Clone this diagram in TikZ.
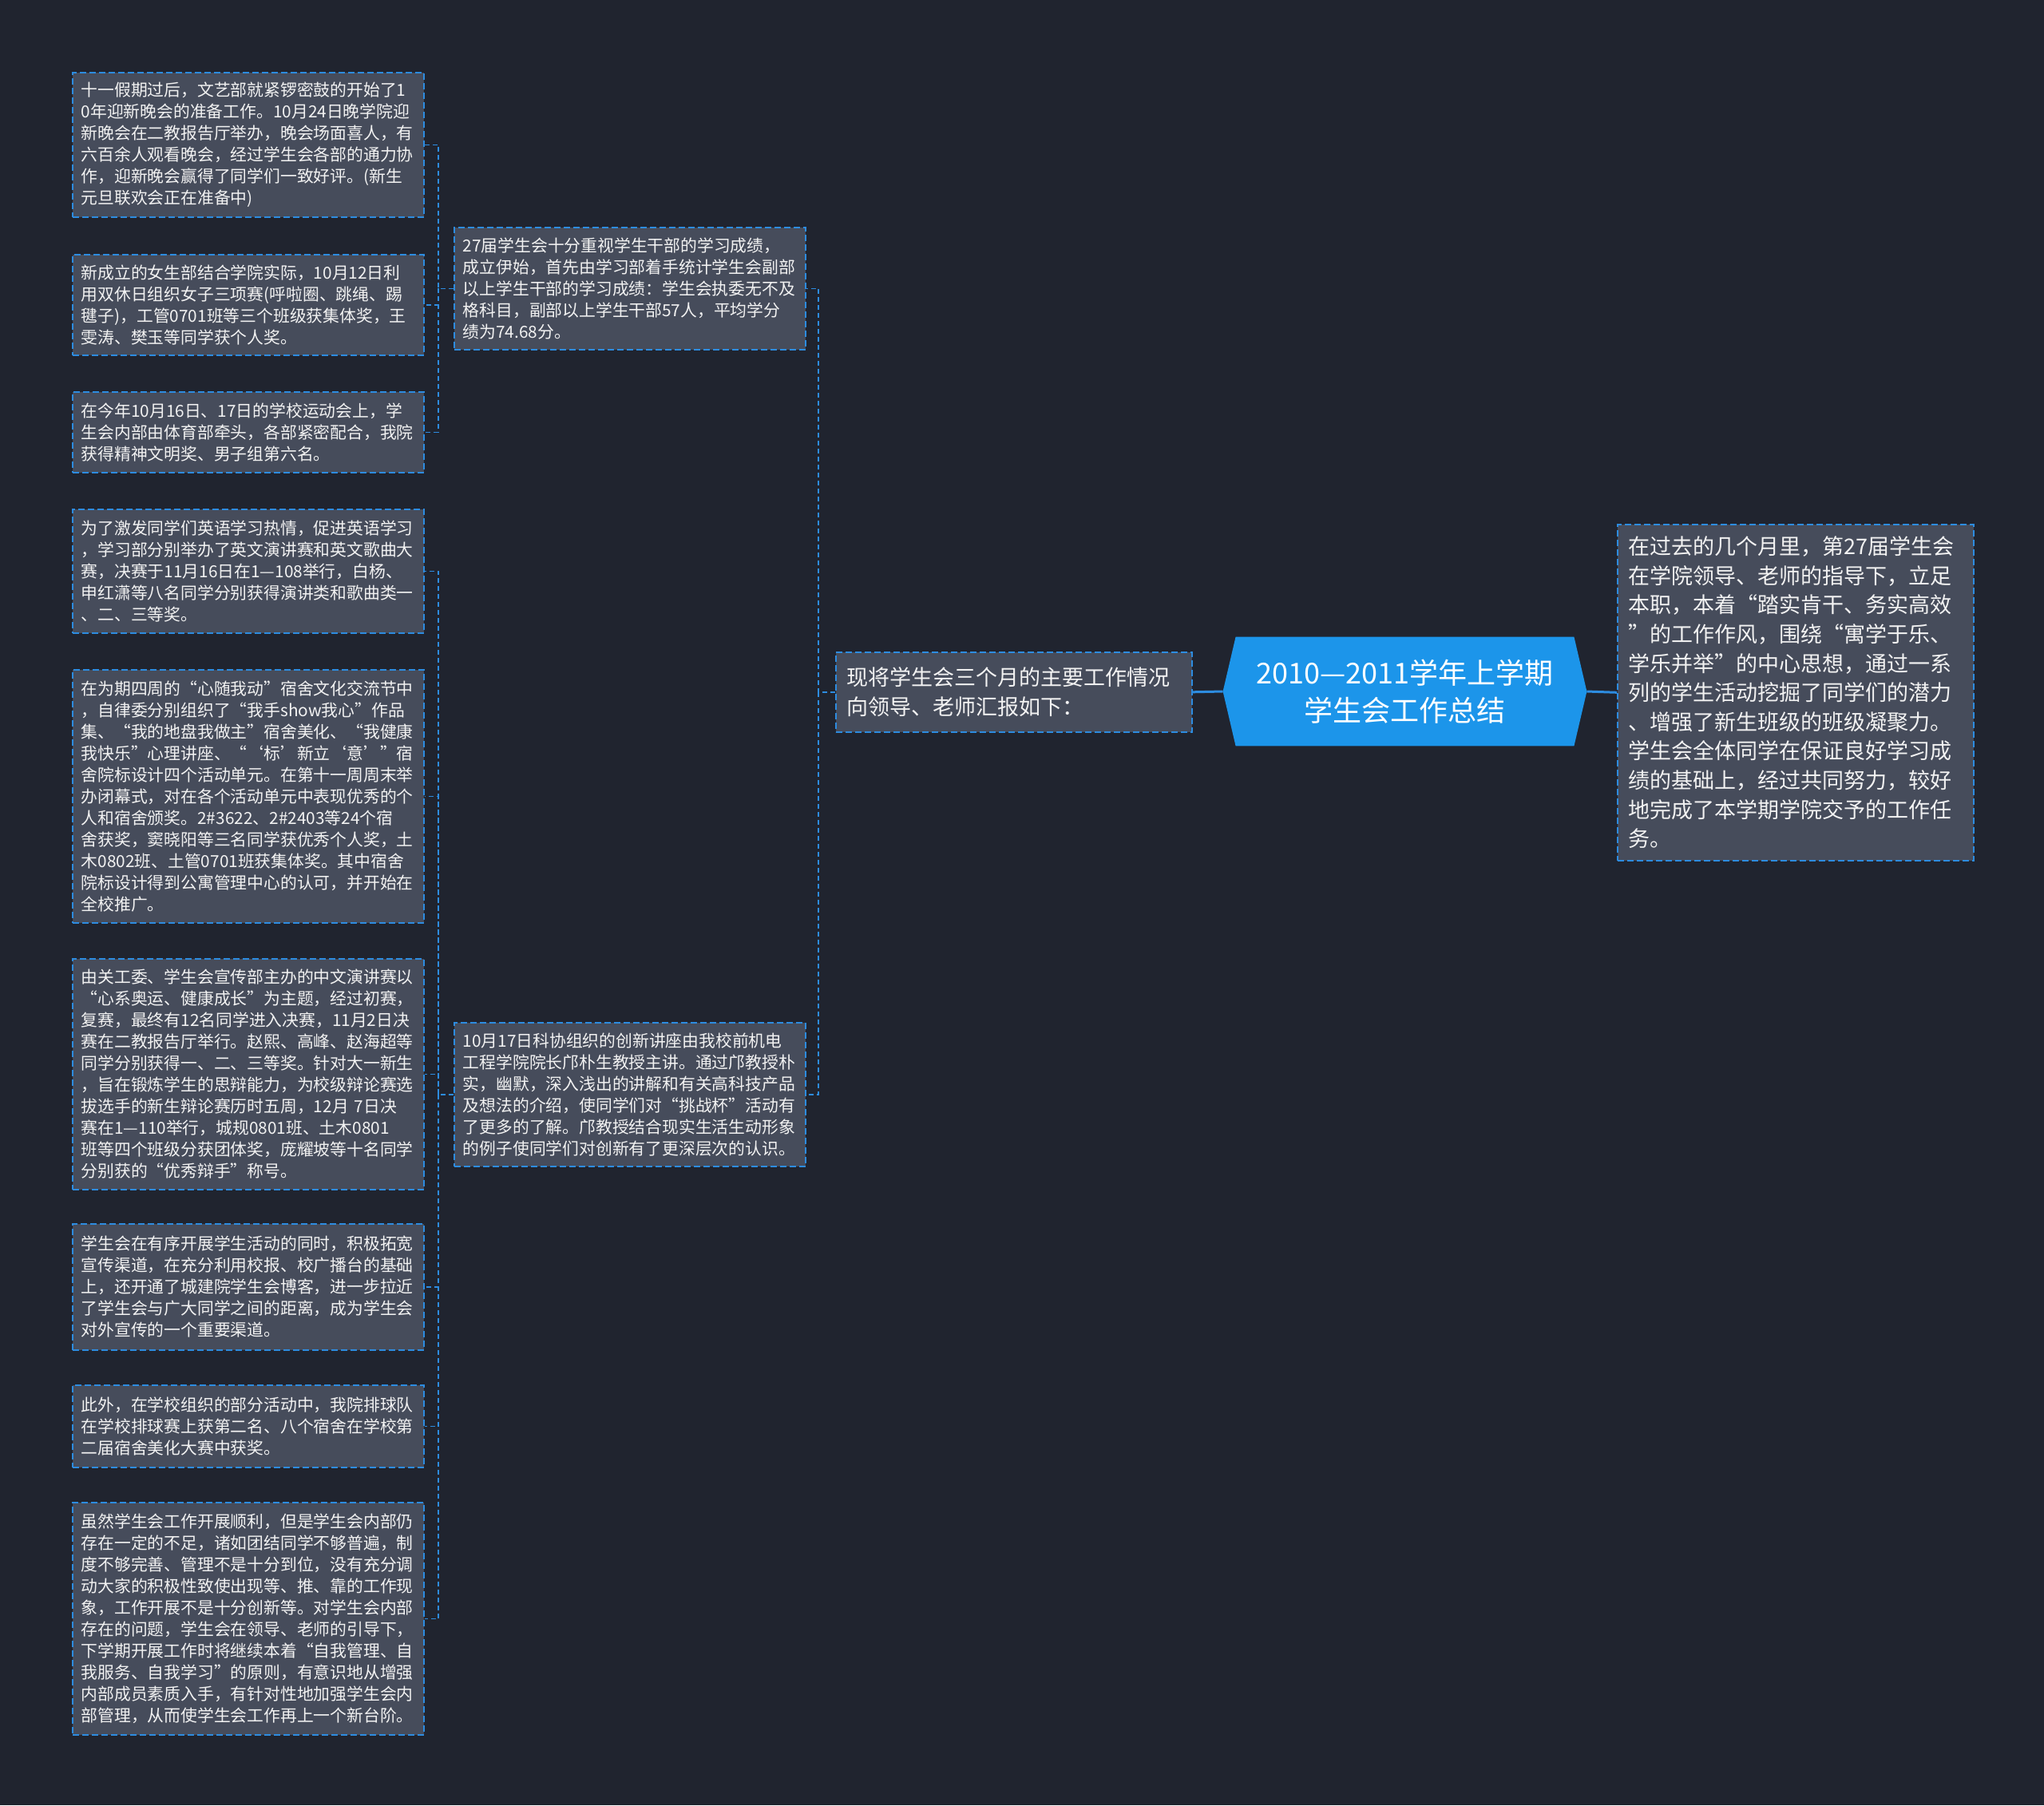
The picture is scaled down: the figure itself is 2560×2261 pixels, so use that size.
\documentclass[tikz,border=0pt]{standalone}
\usepackage{fontspec}
\newfontfamily\cjk{Noto Sans CJK SC}
\usetikzlibrary{calc}
\definecolor{bgc}{HTML}{20242F}
\definecolor{boxfill}{HTML}{464C5B}
\definecolor{lineblue}{HTML}{2D8CE0}
\definecolor{hexblue}{HTML}{1C95EA}
\definecolor{txt}{HTML}{F2F2F2}
\pgfdeclarelayer{back}
\pgfdeclarelayer{bg}
\pgfsetlayers{back,bg,main}
\begin{document}
\begin{tikzpicture}[x=0.5pt,y=-0.5pt,
  leaf/.style={draw=lineblue, dash pattern=on 4pt off 2pt, line width=0.8pt,
    fill=boxfill, text=txt, font={\cjk\fontsize{10.4pt}{13.5pt}\selectfont},
    text width=209pt, inner xsep=5.5pt, inner ysep=0pt, align=left,
    anchor=north west, minimum width=220pt},
  bigbox/.style={draw=lineblue, dash pattern=on 4pt off 2pt, line width=0.8pt,
    fill=boxfill, text=txt, font={\cjk\fontsize{13.5pt}{18.3pt}\selectfont},
    text width=209pt, inner xsep=7pt, inner ysep=0pt, align=left,
    anchor=north west, minimum width=223pt},
  conn/.style={draw=lineblue, line width=1.5pt},
  dconn/.style={draw=lineblue, line width=0.75pt, dash pattern=on 3pt off 2pt}
]
\begin{pgfonlayer}{back}
\fill[bgc] (0,0) rectangle (2560,2261);
\end{pgfonlayer}

% left column
\node[leaf, minimum height=90.5pt] (b1) at (90,90) {十一假期过后，文艺部就紧锣密鼓的开始了1\\0年迎新晚会的准备工作。10月24日晚学院迎\\新晚会在二教报告厅举办，晚会场面喜人，有\\六百余人观看晚会，经过学生会各部的通力协\\作，迎新晚会赢得了同学们一致好评。(新生\\元旦联欢会正在准备中)};
\node[leaf, minimum height=63pt] (b2) at (90,318) {新成立的女生部结合学院实际，10月12日利\\用双休日组织女子三项赛(呼啦圈、跳绳、踢\\毽子)，工管0701班等三个班级获集体奖，王\\雯涛、樊玉等同学获个人奖。};
\node[leaf, minimum height=50.5pt] (b3) at (90,490) {在今年10月16日、17日的学校运动会上，学\\生会内部由体育部牵头，各部紧密配合，我院\\获得精神文明奖、男子组第六名。};
\node[leaf, minimum height=77.5pt] (b4) at (90,637) {为了激发同学们英语学习热情，促进英语学习\\，学习部分别举办了英文演讲赛和英文歌曲大\\赛，决赛于11月16日在1—108举行，白杨、\\申红潇等八名同学分别获得演讲类和歌曲类一\\、二、三等奖。};
\node[leaf, minimum height=158.5pt] (b5) at (90,838) {在为期四周的“心随我动”宿舍文化交流节中\\，自律委分别组织了“我手show我心”作品\\集、“我的地盘我做主”宿舍美化、“我健康\\我快乐”心理讲座、“‘标’新立‘意’”宿\\舍院标设计四个活动单元。在第十一周周末举\\办闭幕式，对在各个活动单元中表现优秀的个\\人和宿舍颁奖。2\#3622、2\#2403等24个宿\\舍获奖，窦晓阳等三名同学获优秀个人奖，土\\木0802班、土管0701班获集体奖。其中宿舍\\院标设计得到公寓管理中心的认可，并开始在\\全校推广。};
\node[leaf, minimum height=144.5pt] (b6) at (90,1200) {由关工委、学生会宣传部主办的中文演讲赛以\\“心系奥运、健康成长”为主题，经过初赛，\\复赛，最终有12名同学进入决赛，11月2日决\\赛在二教报告厅举行。赵熙、高峰、赵海超等\\同学分别获得一、二、三等奖。针对大一新生\\，旨在锻炼学生的思辩能力，为校级辩论赛选\\拔选手的新生辩论赛历时五周，12月~7日决\\赛在1—110举行，城规0801班、土木0801\\班等四个班级分获团体奖，庞耀坡等十名同学\\分别获的“优秀辩手”称号。};
\node[leaf, minimum height=79pt] (b7) at (90,1532) {学生会在有序开展学生活动的同时，积极拓宽\\宣传渠道，在充分利用校报、校广播台的基础\\上，还开通了城建院学生会博客，进一步拉近\\了学生会与广大同学之间的距离，成为学生会\\对外宣传的一个重要渠道。};
\node[leaf, minimum height=51.5pt] (b8) at (90,1734) {此外，在学校组织的部分活动中，我院排球队\\在学校排球赛上获第二名、八个宿舍在学校第\\二届宿舍美化大赛中获奖。};
\node[leaf, minimum height=145.5pt] (b9) at (90,1881) {虽然学生会工作开展顺利，但是学生会内部仍\\存在一定的不足，诸如团结同学不够普遍，制\\度不够完善、管理不是十分到位，没有充分调\\动大家的积极性致使出现等、推、靠的工作现\\象，工作开展不是十分创新等。对学生会内部\\存在的问题，学生会在领导、老师的引导下，\\下学期开展工作时将继续本着“自我管理、自\\我服务、自我学习”的原则，有意识地从增强\\内部成员素质入手，有针对性地加强学生会内\\部管理，从而使学生会工作再上一个新台阶。};

% middle column
\node[leaf, minimum height=76.5pt] (ma) at (568,284) {27届学生会十分重视学生干部的学习成绩，\\成立伊始，首先由学习部着手统计学生会副部\\以上学生干部的学习成绩：学生会执委无不及\\格科目，副部以上学生干部57人，平均学分\\绩为74.68分。};
\node[leaf, minimum height=90pt] (mb) at (568,1280) {10月17日科协组织的创新讲座由我校前机电\\工程学院院长邝朴生教授主讲。通过邝教授朴\\实，幽默，深入浅出的讲解和有关高科技产品\\及想法的介绍，使同学们对“挑战杯”活动有\\了更多的了解。邝教授结合现实生活生动形象\\的例子使同学们对创新有了更深层次的认识。};

% level 1
\node[bigbox, minimum height=50pt] (l1) at (1046,816) {现将学生会三个月的主要工作情况\\向领导、老师汇报如下：};

% right
\node[bigbox, minimum height=210.5pt] (r) at (2025,656) {在过去的几个月里，第27届学生会\\在学院领导、老师的指导下，立足\\本职，本着“踏实肯干、务实高效\\”的工作作风，围绕“寓学于乐、\\学乐并举”的中心思想，通过一系\\列的学生活动挖掘了同学们的潜力\\、增强了新生班级的班级凝聚力。\\学生会全体同学在保证良好学习成\\绩的基础上，经过共同努力，较好\\地完成了本学期学院交予的工作任\\务。};

% center
\node[minimum width=211.5pt, minimum height=68pt, inner sep=0pt, text=white,
  align=center, font={\cjk\fontsize{18pt}{23.5pt}\selectfont}] (c) at (1759.5,866)
  {2010—2011学年上学期\\学生会工作总结};
\coordinate (cw) at ($(c.west)+(-16,0)$);
\coordinate (ce) at ($(c.east)+(16,0)$);
\begin{pgfonlayer}{bg}
\fill[hexblue] (c.north west) -- (c.north east) -- (ce) -- (c.south east) -- (c.south west) -- (cw) -- cycle;
\end{pgfonlayer}

% connectors
\draw[conn] (cw) -- (l1.east);
\draw[conn] (ce) -- (r.west);
\draw[dconn] (l1.west) -- ++(-21,0) coordinate (j1) |- (ma.east);
\draw[dconn] (j1) |- (mb.east);
\draw[dconn] (ma.west) -- ++(-19,0) coordinate (j2) |- (b1.east);
\draw[dconn] (j2) |- (b2.east);
\draw[dconn] (j2) |- (b3.east);
\draw[dconn] (mb.west) -- ++(-19,0) coordinate (j3) |- (b4.east);
\draw[dconn] (j3) |- (b5.east);
\draw[dconn] (j3) |- (b6.east);
\draw[dconn] (j3) |- (b7.east);
\draw[dconn] (j3) |- (b8.east);
\draw[dconn] (j3) |- (b9.east);
\end{tikzpicture}
\end{document}
